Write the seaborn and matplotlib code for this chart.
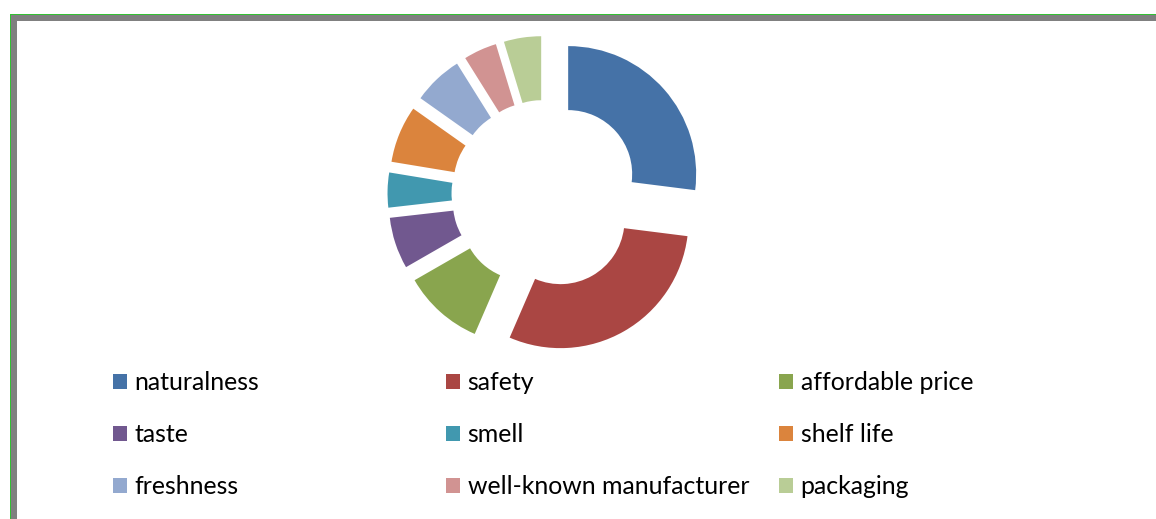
import matplotlib
matplotlib.use("Agg")
import matplotlib.pyplot as plt
from matplotlib.patches import Rectangle
import seaborn as sns

# Share of respondents naming each product attribute (%)
attributes = ["naturalness", "safety", "affordable price", "taste", "smell",
              "shelf life", "freshness", "well-known manufacturer", "packaging"]
shares = [27.0, 29.5, 10.2, 6.5, 4.4, 7.2, 6.3, 4.2, 4.7]
slice_colors = ["#4572A7", "#AA4643", "#89A54E", "#71588F", "#4198AF",
                "#DB843D", "#93A9CF", "#D19392", "#B9CD96"]

sns.set_theme(style="white")
plt.rcParams["font.family"] = ["Lato", "DejaVu Sans"]
palette = sns.color_palette(slice_colors)

W, H = 1156, 519
fig = plt.figure(figsize=(W / 100, H / 100), dpi=100)
fig.patch.set_facecolor("white")


def px_rect(x0, y0, x1, y1, color):
    """Rectangle given in pixel coordinates measured from the top-left corner."""
    fig.patches.append(Rectangle((x0 / W, 1 - y1 / H), (x1 - x0) / W, (y1 - y0) / H,
                                 transform=fig.transFigure, facecolor=color,
                                 edgecolor="none", zorder=0))


# Frame along the top and left edges
px_rect(10, 14, W, 15, "#33c033")
px_rect(10, 14, 11, H, "#33c033")
px_rect(11, 15, W, 21.3, "#808080")
px_rect(11, 15, 17.3, H, "#808080")

# Exploded doughnut
R = 128.0           # outer radius in pixels
cx, cy = 545.6, 194.0
half_w, half_h = 200.0, 180.0
ax = fig.add_axes([(cx - half_w) / W, 1 - (cy + half_h) / H, 2 * half_w / W, 2 * half_h / H])
wedges, _ = ax.pie(shares, colors=palette, startangle=90, counterclock=False,
                   explode=[0.235] * len(shares), radius=1.0,
                   wedgeprops=dict(width=0.5, linewidth=0))
ax.set_xlim(-half_w / R, half_w / R)
ax.set_ylim(-half_h / R, half_h / R)
ax.set_aspect("auto")
ax.axis("off")

# Legend: three columns, three rows
fs = 17.9
col_x = [113, 446, 779]
for c in range(3):
    idx = [c, c + 3, c + 6]
    fig.legend([wedges[i] for i in idx], [attributes[i] for i in idx],
               loc="upper left", bbox_to_anchor=(col_x[c] / W, 1 - 371 / H),
               bbox_transform=fig.transFigure, frameon=False, fontsize=fs,
               handlelength=0.56, handleheight=0.56, handletextpad=0.31,
               borderpad=0, borderaxespad=0, labelspacing=1.17,
               labelcolor="#000000")

fig.savefig("out.png", dpi=100, facecolor="white")
